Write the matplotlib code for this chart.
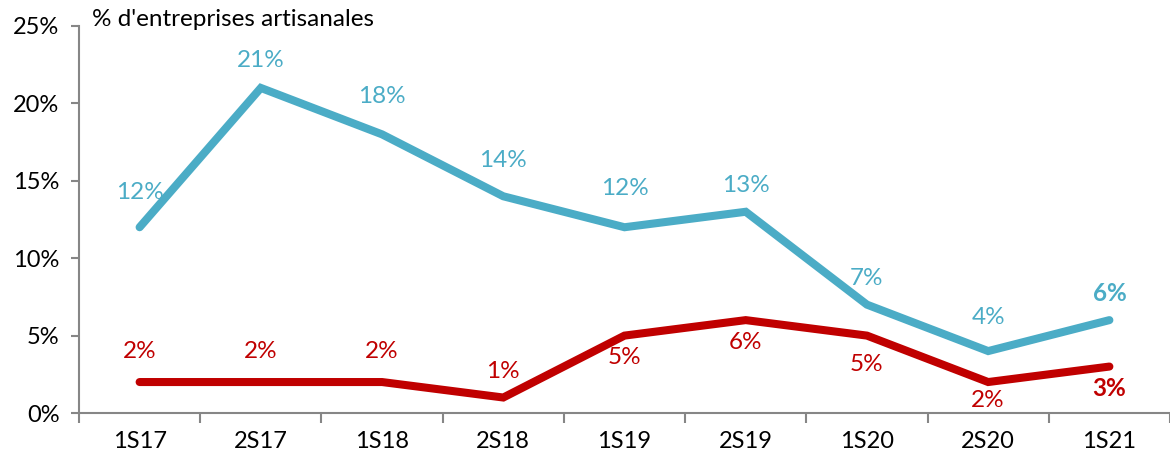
import matplotlib
matplotlib.use("Agg")
import matplotlib.pyplot as plt

categories = ["1S17", "2S17", "1S18", "2S18", "1S19", "2S19", "1S20", "2S20", "1S21"]
blue_values = [12, 21, 18, 14, 12, 13, 7, 4, 6]
red_values = [2, 2, 2, 1, 5, 6, 5, 2, 3]
yticks = [0, 5, 10, 15, 20, 25]
title = "% d'entreprises artisanales"

# label vertical offsets (points) - styling only
blue_offsets = [25, 20, 27, 26, 28, 19, 19, 24, 19]
red_offsets = [22, 22, 22, 19, -16, -16, -21, -13, -16]

BLUE = "#4BACC6"
RED = "#C00000"
GRAY = "#868686"

plt.rcParams['font.family'] = ['Lato', 'DejaVu Sans']

fig = plt.figure(figsize=(11.70, 4.61), dpi=100)
ax = fig.add_axes([79/1170, 48/461, 1 - 79/1170, (413-26)/461])

x = list(range(len(categories)))
ax.plot(x, blue_values, color=BLUE, lw=5.8, solid_capstyle='round', solid_joinstyle='miter', zorder=3)
ax.plot(x, red_values, color=RED, lw=5.8, solid_capstyle='round', solid_joinstyle='miter', zorder=3)

n = len(categories)
for i, v in enumerate(blue_values):
    bold = (i == n - 1)
    ax.annotate(f"{v}%", (i, v), xytext=(0, blue_offsets[i]), textcoords='offset points',
                ha='center', va='center', color=BLUE, fontsize=17.5,
                fontweight='bold' if bold else 'normal')
for i, v in enumerate(red_values):
    bold = (i == n - 1)
    ax.annotate(f"{v}%", (i, v), xytext=(0, red_offsets[i]), textcoords='offset points',
                ha='center', va='center', color=RED, fontsize=17.5,
                fontweight='bold' if bold else 'normal')

ax.set_xlim(-0.5, -0.5 + (1170 - 79) / 121.9)
ax.set_ylim(0, 25)
ax.set_yticks(yticks)
ax.set_yticklabels([f"{t}%" for t in yticks], fontsize=17)
ax.set_xticks([i + 0.5 for i in range(-1, n)])
ax.set_xticklabels([])
ax.set_xticks(x, minor=True)
ax.set_xticklabels(categories, minor=True, fontsize=17)
ax.tick_params(axis='x', which='major', direction='out', length=7, width=1.5, color=GRAY)
ax.tick_params(axis='x', which='minor', length=0, pad=13)
ax.tick_params(axis='y', direction='out', length=6, width=1.5, color=GRAY, pad=8)

for s in ['top', 'right']:
    ax.spines[s].set_visible(False)
for s in ['left', 'bottom']:
    ax.spines[s].set_color(GRAY)
    ax.spines[s].set_linewidth(1.5)

fig.text(92/1170, 1 - 19/461, title, fontsize=17.5, ha='left', va='center', color='black')

fig.savefig("out.png", dpi=100)
